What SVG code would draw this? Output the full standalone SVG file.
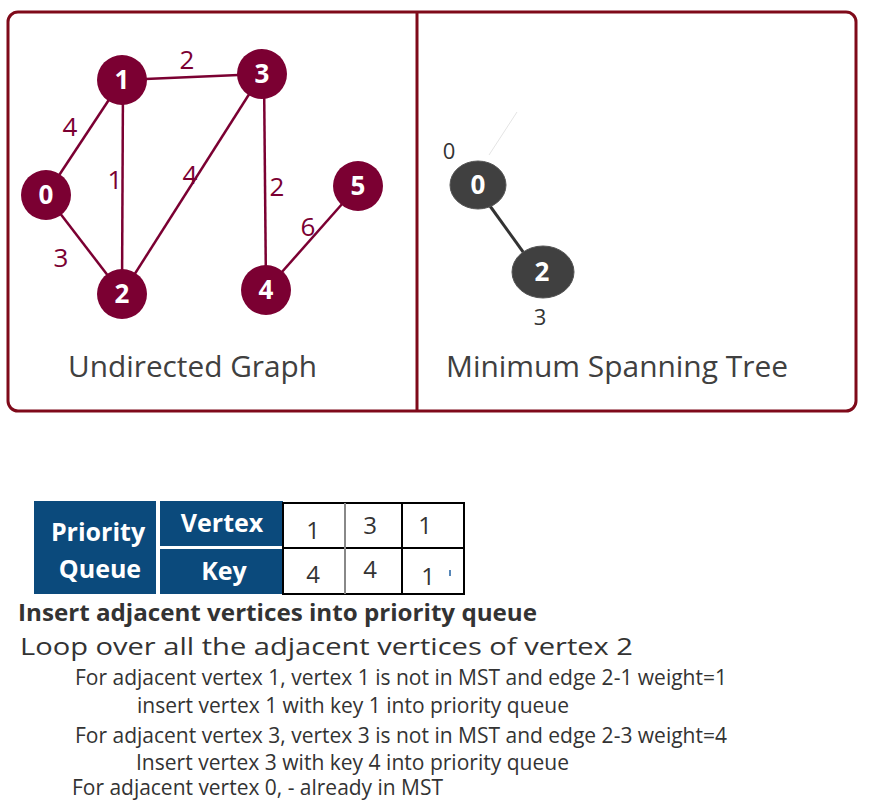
<svg xmlns="http://www.w3.org/2000/svg" width="869" height="800" viewBox="0 0 869 800">
<style>
.frame{fill:none;stroke:#7f0a1a;stroke-width:3}
.gn{fill:#7b0032}
.ge{stroke:#7b0032;stroke-width:2.5;fill:none}
.nl{font-family:"Open Sans","Noto Sans",sans-serif;font-weight:bold;font-size:26px;fill:#fff;text-anchor:middle}
.el{font-family:"Open Sans","Noto Sans",sans-serif;font-size:26px;fill:#7b0032;text-anchor:middle}
.cap{font-family:"Open Sans","Noto Sans",sans-serif;font-size:30px;fill:#404040}
.tn{fill:#404040;stroke:#555;stroke-width:1}
.tl{font-family:"Open Sans","Noto Sans",sans-serif;font-size:22px;fill:#333;text-anchor:middle}
.hb{fill:#0b4a7c}
.ht{font-family:"Open Sans","Noto Sans",sans-serif;font-weight:bold;font-size:25px;fill:#fff;text-anchor:middle}
.cell{fill:#fff;stroke:#000;stroke-width:2}
.ct{font-family:"Open Sans","Noto Sans",sans-serif;font-size:24px;fill:#333;text-anchor:middle}
.tx{font-family:"Open Sans","Noto Sans",sans-serif;font-size:21px;fill:#333}
.tb{font-family:"Open Sans","Noto Sans",sans-serif;font-size:24px;font-weight:bold;fill:#333}
</style>
<rect class="frame" x="8" y="12" width="848" height="399" rx="10"/>
<line class="frame" x1="417" y1="12" x2="417" y2="411"/>
<g id="connectors">
<line class="ge" x1="122" y1="80" x2="262" y2="74"/>
<line class="ge" x1="122" y1="80" x2="46" y2="195"/>
<line class="ge" x1="123" y1="80" x2="122" y2="294"/>
<line class="ge" x1="262" y1="74" x2="122" y2="294"/>
<line class="ge" x1="264" y1="74" x2="266" y2="290"/>
<line class="ge" x1="46" y1="195" x2="122" y2="294"/>
<line class="ge" x1="266" y1="290" x2="358" y2="186"/>
<text class="el" x="187" y="69">2</text>
<text class="el" x="70" y="136">4</text>
<text class="el" x="115" y="189">1</text>
<text class="el" x="190" y="184">4</text>
<text class="el" x="277" y="196">2</text>
<text class="el" x="308" y="236">6</text>
<text class="el" x="61" y="267">3</text>
<line x1="489" y1="155" x2="517" y2="112" stroke="#e4e4e4" stroke-width="1"/>
<line x1="490" y1="206" x2="526" y2="256" stroke="#333" stroke-width="3"/>
</g>
<g id="g0"><circle class="gn" cx="46" cy="195" r="25"/><text class="nl" x="46" y="204">0</text></g>
<g id="g1"><circle class="gn" cx="122" cy="80" r="25"/><text class="nl" x="122" y="89">1</text></g>
<g id="g2"><circle class="gn" cx="122" cy="294" r="25"/><text class="nl" x="122" y="303">2</text></g>
<g id="g3"><circle class="gn" cx="262" cy="74" r="25"/><text class="nl" x="262" y="83">3</text></g>
<g id="g4"><circle class="gn" cx="266" cy="290" r="25"/><text class="nl" x="266" y="299">4</text></g>
<g id="g5"><circle class="gn" cx="358" cy="186" r="25"/><text class="nl" x="358" y="195">5</text></g>
<text class="cap" x="68" y="377" textLength="249" lengthAdjust="spacingAndGlyphs">Undirected Graph</text>
<g id="t0"><ellipse class="tn" cx="478" cy="185" rx="28" ry="24"/><text class="nl" x="478" y="194">0</text><text class="tl" x="449" y="159">0</text></g>
<g id="t2"><ellipse class="tn" cx="543" cy="272" rx="31" ry="26"/><text class="nl" x="542" y="281">2</text><text class="tl" x="540" y="325">3</text></g>
<text class="cap" x="446" y="377" textLength="342" lengthAdjust="spacingAndGlyphs">Minimum Spanning Tree</text>
<g id="pq">
<rect class="hb" x="34" y="501" width="122" height="93"/>
<text class="ht" x="98" y="541">Priority</text>
<text class="ht" x="100" y="578">Queue</text>
<rect class="hb" x="160" y="501" width="123" height="45"/>
<text class="ht" x="222" y="532">Vertex</text>
<rect class="hb" x="160" y="549" width="123" height="45"/>
<text class="ht" x="224" y="580">Key</text>
<rect class="cell" x="283" y="503" width="62" height="45" stroke="#888"/>
<rect class="cell" x="345" y="503" width="57" height="45"/>
<rect class="cell" x="402" y="503" width="62" height="45"/>
<rect class="cell" x="283" y="548" width="62" height="46" stroke="#888"/>
<rect class="cell" x="345" y="548" width="57" height="46"/>
<rect class="cell" x="402" y="548" width="62" height="46"/>
<line x1="283" y1="548" x2="345" y2="548" stroke="#000" stroke-width="2"/>
<line x1="345" y1="503" x2="345" y2="594" stroke="#888" stroke-width="2"/>
<text class="ct" x="313" y="539">1</text>
<text class="ct" x="370" y="534">3</text>
<text class="ct" x="425" y="534">1</text>
<text class="ct" x="313" y="583">4</text>
<text class="ct" x="370" y="578">4</text>
<text class="ct" x="428" y="585">1</text>
<line x1="450" y1="570" x2="450" y2="576" stroke="#1f5fa0" stroke-width="1.5"/>
</g>
<text class="tb" x="18" y="621" textLength="519" lengthAdjust="spacingAndGlyphs">Insert adjacent vertices into priority queue</text>
<text class="tx" x="20" y="655" style="font-size:23px" textLength="613" lengthAdjust="spacingAndGlyphs">Loop over all the adjacent vertices of vertex 2</text>
<text class="tx" x="75" y="685" textLength="652" lengthAdjust="spacingAndGlyphs">For adjacent vertex 1, vertex 1 is not in MST and edge 2-1 weight=1</text>
<text class="tx" x="137" y="713" textLength="432" lengthAdjust="spacingAndGlyphs">insert vertex 1 with key 1 into priority queue</text>
<text class="tx" x="75" y="743" textLength="652" lengthAdjust="spacingAndGlyphs">For adjacent vertex 3, vertex 3 is not in MST and edge 2-3 weight=4</text>
<text class="tx" x="136" y="770" textLength="433" lengthAdjust="spacingAndGlyphs">Insert vertex 3 with key 4 into priority queue</text>
<text class="tx" x="72" y="795" textLength="371" lengthAdjust="spacingAndGlyphs">For adjacent vertex 0, - already in MST</text>
</svg>
